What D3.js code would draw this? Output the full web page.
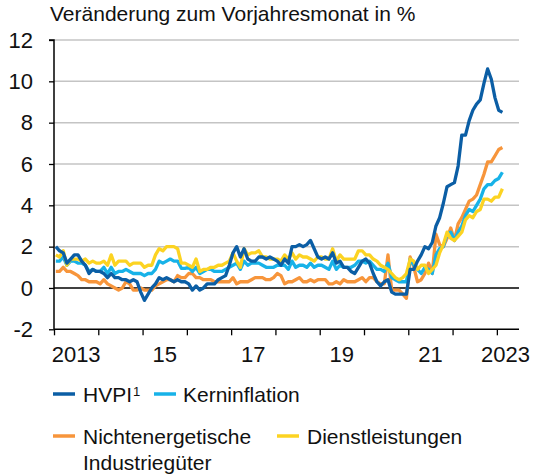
<!DOCTYPE html>
<html>
<head>
<meta charset="utf-8">
<script src="https://cdn.jsdelivr.net/npm/d3@7"></script>
<style>
  html, body { margin: 0; padding: 0; background: #fff; }
  svg { display: block; font-family: "Liberation Sans", Arial, sans-serif; }
</style>
</head>
<body>
<svg id="chart" width="535" height="474"></svg>
<script>
// Monthly data, Jan 2013 – Feb 2023 (year-on-year change in %)
const startYear = 2013;
const hvpi = [
  2.0,1.8,1.7,1.2,1.4,1.6,1.6,1.3,1.1,0.7,0.9,0.8,
  0.8,0.7,0.5,0.7,0.5,0.5,0.4,0.4,0.3,0.4,0.3,-0.2,
  -0.6,-0.3,0.0,0.2,0.5,0.4,0.5,0.4,0.3,0.4,0.3,0.3,
  0.2,-0.1,0.1,-0.1,0.0,0.2,0.2,0.2,0.4,0.5,0.6,1.1,
  1.7,2.0,1.5,1.9,1.4,1.3,1.3,1.5,1.5,1.4,1.5,1.4,
  1.3,1.1,1.4,1.2,2.0,2.0,2.1,2.0,2.1,2.3,1.9,1.5,
  1.4,1.5,1.4,1.7,1.2,1.3,1.0,1.0,0.8,0.7,1.0,1.3,
  1.4,1.2,0.7,0.3,0.1,0.3,0.4,-0.2,-0.3,-0.3,-0.3,-0.3,
  0.9,0.9,1.3,1.6,2.0,1.9,2.2,3.0,3.4,4.1,4.9,5.0,
  5.1,5.9,7.4,7.4,8.1,8.6,8.9,9.1,9.9,10.6,10.1,9.2,
  8.6,8.5
];
const kern = [
  1.3,1.3,1.5,1.1,1.3,1.3,1.2,1.2,1.1,0.8,0.9,0.8,
  0.8,1.0,0.7,1.0,0.7,0.8,0.8,0.9,0.8,0.7,0.7,0.7,
  0.6,0.7,0.7,0.9,1.3,1.2,1.3,1.4,1.3,1.3,0.95,0.95,
  1.0,0.8,1.0,0.7,0.8,0.9,0.9,0.8,0.8,0.8,0.9,1.0,
  1.1,1.2,0.9,1.3,1.1,1.2,1.2,1.2,1.1,1.0,1.0,1.0,
  1.1,1.1,1.1,0.9,1.3,1.0,1.1,1.1,1.0,1.2,1.0,1.1,
  1.1,1.0,0.9,1.3,0.9,1.1,1.0,1.0,1.0,1.1,1.3,1.3,
  1.2,1.3,1.1,0.9,0.9,0.8,1.2,0.5,0.4,0.3,0.3,0.3,
  1.4,1.1,0.9,0.7,1.0,0.9,0.7,1.6,1.9,2.0,2.6,2.7,
  2.3,2.7,3.0,3.5,3.8,3.7,4.0,4.3,4.8,5.0,5.0,5.2,
  5.3,5.6
];
const industrie = [
  0.8,0.8,1.0,0.8,0.8,0.7,0.6,0.4,0.4,0.3,0.3,0.3,
  0.2,0.4,0.2,0.1,0.0,-0.1,0.0,0.3,0.2,-0.1,-0.1,0.0,
  -0.1,-0.1,-0.1,0.1,0.2,0.3,0.4,0.4,0.3,0.6,0.5,0.5,
  0.7,0.7,0.5,0.5,0.4,0.4,0.4,0.3,0.3,0.3,0.3,0.3,
  0.5,0.2,0.3,0.3,0.3,0.4,0.5,0.5,0.5,0.4,0.4,0.5,
  0.7,0.6,0.2,0.3,0.3,0.4,0.5,0.3,0.3,0.4,0.3,0.4,
  0.4,0.4,0.2,0.2,0.3,0.2,0.4,0.3,0.3,0.3,0.4,0.5,
  0.3,0.5,0.5,0.3,0.2,0.2,1.6,-0.1,-0.1,-0.1,-0.3,-0.5,
  1.5,1.0,0.3,0.4,0.7,1.2,0.7,2.6,2.1,2.0,2.4,2.9,
  2.3,3.1,3.4,3.8,4.2,4.3,4.5,5.0,5.5,6.1,6.1,6.4,
  6.7,6.8
];
const dienst = [
  1.6,1.5,1.8,1.1,1.4,1.4,1.4,1.3,1.4,1.2,1.3,1.2,
  1.2,1.3,1.1,1.6,1.1,1.3,1.3,1.3,1.1,1.2,1.2,1.2,
  1.0,1.1,1.1,1.6,1.9,1.8,2.0,2.0,2.0,1.9,1.2,1.2,
  1.1,1.0,1.4,0.8,0.9,0.9,1.0,1.0,1.1,1.1,1.2,1.3,
  1.7,1.3,1.0,1.9,1.6,1.7,1.7,1.8,1.5,1.5,1.4,1.4,
  1.4,1.3,1.6,1.4,1.7,1.4,1.6,1.5,1.5,1.4,1.3,1.5,
  1.5,1.4,1.4,1.9,1.3,1.6,1.4,1.4,1.4,1.4,1.8,1.8,
  1.6,1.6,1.4,1.3,1.1,1.0,0.9,0.7,0.5,0.4,0.5,0.7,
  1.4,1.3,0.9,1.1,1.1,0.7,0.9,1.1,1.7,2.1,2.7,2.4,
  2.3,2.5,2.7,3.3,3.5,3.4,3.7,3.8,4.3,4.3,4.2,4.4,
  4.4,4.8
];
const yTicks = [-2, 0, 2, 4, 6, 8, 10, 12];
const xTickYears = [2013,2014,2015,2016,2017,2018,2019,2020,2021,2022,2023];
const xLabels = [
  {year: 2013, text: "2013"}, {year: 2015, text: "15"}, {year: 2017, text: "17"},
  {year: 2019, text: "19"}, {year: 2021, text: "21"}, {year: 2023, text: "2023"}
];
const seriesNames = ["HVPI", "Kerninflation", "Nichtenergetische Industriegüter", "Dienstleistungen"];
const seriesColors = ["#0b5ea5", "#17b2e8", "#f7953b", "#fcd322"];

const svg = d3.select("#chart");
const FONT = 21;
const TICKFONT = 22;

const x = d3.scaleLinear().domain([2013, 2023.5]).range([54, 519]);
const y = d3.scaleLinear().domain([-2, 12]).range([329.3, 40]);

// gridlines
svg.append("g").selectAll("line").data(yTicks.filter(v => v > 0)).join("line")
  .attr("x1", x(2013)).attr("x2", x(2023.5))
  .attr("y1", d => y(d)).attr("y2", d => y(d))
  .attr("stroke", "#c4c4c4").attr("stroke-width", 1.5);

// y axis
const yAxis = d3.axisLeft(y).tickValues(yTicks).tickSize(5).tickPadding(16)
  .tickFormat(d => d < 0 ? "-" + Math.abs(d) : String(d));
const gy = svg.append("g").attr("transform", `translate(${x(2013)},0)`).call(yAxis);
gy.select(".domain").attr("stroke", "#000").attr("stroke-width", 1.5).attr("d", `M-5,${y(12)}H0V${y(-2)}`);
gy.selectAll(".tick line").attr("stroke", "#000").attr("stroke-width", 1.3);
gy.selectAll(".tick text").attr("font-size", TICKFONT).attr("font-family", "Liberation Sans, Arial, sans-serif")
  .attr("fill", "#111");

// x axis
const xAxis = d3.axisBottom(x).tickValues(xTickYears).tickSize(6).tickFormat("");
const gx = svg.append("g").attr("transform", `translate(0,${y(-2)})`).call(xAxis);
gx.select(".domain").attr("stroke", "#000").attr("stroke-width", 1.5).attr("d", `M${x(2013)},0H${x(2023.5)}`);
gx.selectAll(".tick line").attr("stroke", "#000").attr("stroke-width", 1.3);

svg.append("g").selectAll("text").data(xLabels).join("text")
  .attr("x", d => d.year === 2023 ? 530 : x(d.year + 0.5))
  .attr("y", 362)
  .attr("text-anchor", d => d.year === 2023 ? "end" : "middle")
  .attr("font-size", TICKFONT).attr("fill", "#111")
  .text(d => d.text);

// zero line
svg.append("line").attr("x1", x(2013)).attr("x2", x(2023.5))
  .attr("y1", y(0)).attr("y2", y(0)).attr("stroke", "#000").attr("stroke-width", 1.5);

// series
const allSeries = [hvpi, kern, industrie, dienst];
const line = d3.line()
  .x((d, i) => x(startYear + (i + 0.5) / 12))
  .y(d => y(d));
const drawOrder = [2, 1, 3, 0];
drawOrder.forEach(k => {
  svg.append("path").datum(allSeries[k])
    .attr("fill", "none").attr("stroke", seriesColors[k])
    .attr("stroke-width", 3.3).attr("stroke-linejoin", "round")
    .attr("d", line);
});

// title
svg.append("text").attr("x", 50).attr("y", 21).attr("font-size", FONT).attr("fill", "#111")
  .text("Veränderung zum Vorjahresmonat in %");

// legend
const legend = svg.append("g");
const items = [
  {k: 0, sx: 53, sy: 394, tx: 83, ty: 401.5},
  {k: 1, sx: 154, sy: 394, tx: 183, ty: 401.5},
  {k: 2, sx: 53, sy: 436, tx: 83, ty: 443.5},
  {k: 3, sx: 277, sy: 436, tx: 307, ty: 443.5}
];
items.forEach(it => {
  legend.append("line").attr("x1", it.sx).attr("x2", it.sx + 22)
    .attr("y1", it.sy).attr("y2", it.sy)
    .attr("stroke", seriesColors[it.k]).attr("stroke-width", 3.5);
  const t = legend.append("text").attr("x", it.tx).attr("y", it.ty)
    .attr("font-size", FONT).attr("fill", "#111");
  if (it.k === 0) {
    t.append("tspan").text("HVPI");
    t.append("tspan").attr("font-size", 13).attr("dy", -6).attr("dx", 1).text("1");
  } else if (it.k === 2) {
    t.append("tspan").text("Nichtenergetische");
    t.append("tspan").attr("x", it.tx).attr("dy", 26).text("Industriegüter");
  } else {
    t.text(seriesNames[it.k]);
  }
});
</script>
</body>
</html>
